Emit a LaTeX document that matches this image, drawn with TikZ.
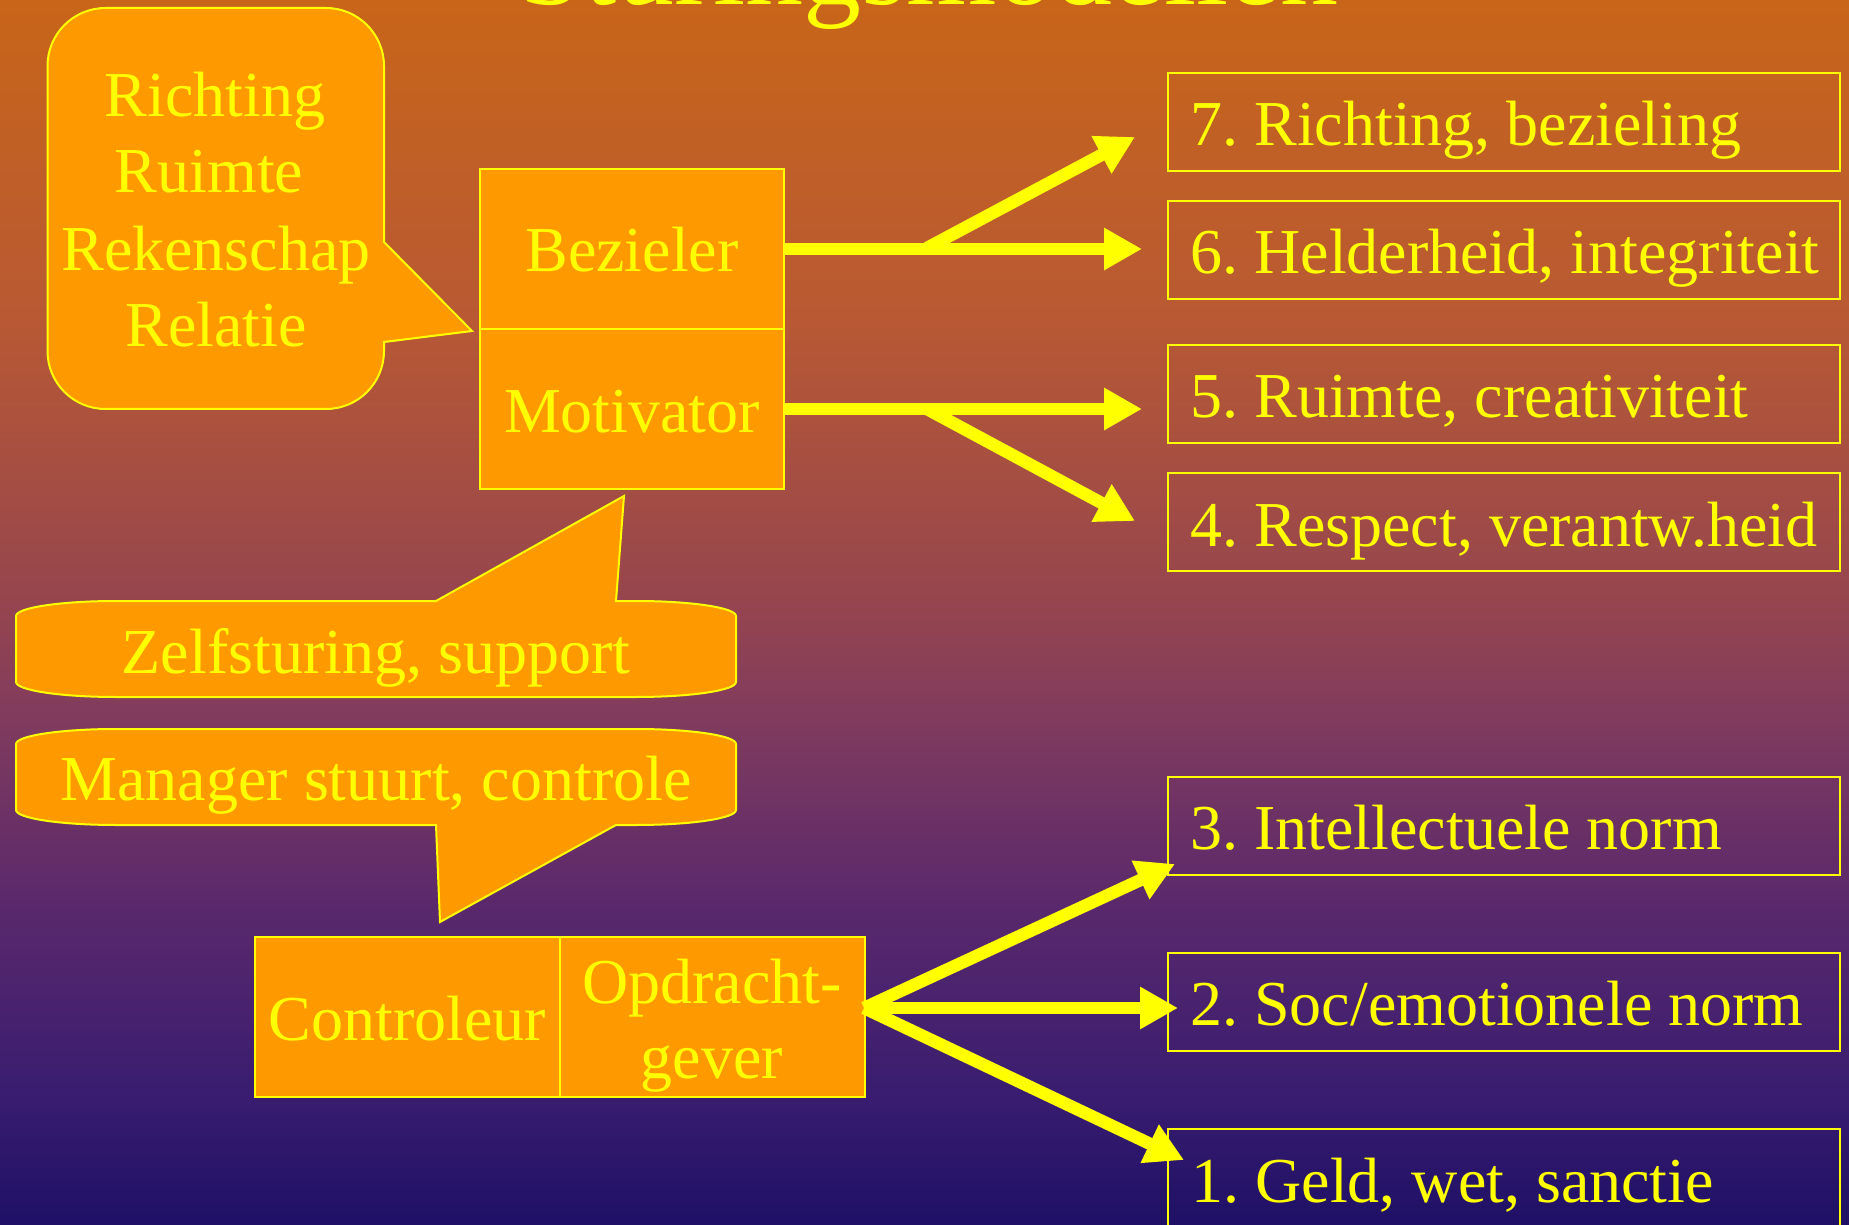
\documentclass[tikz,border=0pt]{standalone}
\usepackage{fontspec}
\setmainfont{Liberation Serif}
\usetikzlibrary{arrows.meta}
\definecolor{bgA}{RGB}{200,101,25}
\definecolor{bgB}{RGB}{184,89,52}
\definecolor{bgC}{RGB}{150,69,78}
\definecolor{bgD}{RGB}{128,59,94}
\definecolor{bgE}{RGB}{89,40,108}
\definecolor{bgF}{RGB}{58,29,112}
\definecolor{bgG}{RGB}{30,16,102}
\definecolor{boxorange}{RGB}{255,153,0}
\definecolor{ylw}{RGB}{255,255,0}
\pgfdeclareverticalshading{bgshade}{100bp}{color(0bp)=(bgG); color(25bp)=(bgG); color(30.51bp)=(bgF); color(37.86bp)=(bgE); color(45.61bp)=(bgD); color(50.51bp)=(bgC); color(61.94bp)=(bgB); color(75bp)=(bgA); color(100bp)=(bgA)}
\frenchspacing
\begin{document}
\begin{tikzpicture}[x=0.5pt,y=-0.5pt,
  txt/.style={text=ylw, font=\fontsize{32pt}{38pt}\selectfont, inner sep=0pt},
  obox/.style={txt, draw=ylw, fill=boxorange, line width=1pt, minimum width=152pt, minimum height=80pt, text height=23pt, text depth=0pt},
  rbox/.style={draw=ylw, line width=1pt, minimum width=336pt, minimum height=49pt, inner sep=0pt},
  rtxt/.style={txt, anchor=base west},
  callout/.style={draw=ylw, fill=boxorange, line width=1pt, line join=miter},
  arr/.style={draw=ylw, line width=6.25pt, -{Triangle[length=19pt,width=20pt]}}]
\useasboundingbox (0,0) rectangle (1849,1225);
\clip (0,0) rectangle (1849,1225);
\shade[shading=bgshade] (0,0) rectangle (1849,1225);

% title
\node[txt, font=\fontsize{58pt}{60pt}\selectfont, anchor=base] (title) at (929,5) {Sturingsmodellen};

% callout top-left
\draw[callout] (384,242) -- (472,331) -- (384,342) -- (384,351)
  arc[start angle=0,end angle=90,radius=58] -- (105.5,409)
  arc[start angle=90,end angle=180,radius=58] -- (47.5,66)
  arc[start angle=180,end angle=270,radius=58] -- (326,8)
  arc[start angle=270,end angle=360,radius=58] -- cycle;
\node[txt, anchor=base] (r1) at (215,117) {Richting};
\node[txt, anchor=base] (r2) at (209,193) {Ruimte};
\node[txt, anchor=base] (r3) at (216,271) {Rekenschap};
\node[txt, anchor=base] (r4) at (216,347) {Relatie};

% Zelfsturing callout
\draw[callout] (436,601) -- (624,496) -- (616,601) -- (636,601)
  arc[start angle=270,end angle=360,x radius=100,y radius=15] -- (736,682)
  arc[start angle=0,end angle=90,x radius=100,y radius=15] -- (116,697)
  arc[start angle=90,end angle=180,x radius=100,y radius=15] -- (16,616)
  arc[start angle=180,end angle=270,x radius=100,y radius=15] -- cycle;
\node[txt, anchor=base] (zelf) at (376,673) {Zelfsturing, support};

% Manager callout
\draw[callout] (116,729) -- (636,729)
  arc[start angle=270,end angle=360,x radius=100,y radius=15] -- (736,810)
  arc[start angle=0,end angle=90,x radius=100,y radius=15] -- (616,825) -- (440,922) -- (436,825) -- (116,825)
  arc[start angle=90,end angle=180,x radius=100,y radius=15] -- (16,744)
  arc[start angle=180,end angle=270,x radius=100,y radius=15] -- cycle;
\node[txt, anchor=base] (man) at (376,800) {Manager stuurt, controle};

% orange boxes
\node[obox] (bez) at (632,249) {Bezieler};
\node[obox] (mot) at (632,409) {Motivator};
\node[obox, minimum width=152.5pt] (con) at (407.5,1017) {Controleur};
\node[obox, minimum width=152.5pt] (opd) at (712.5,1017) {};
\node[txt, anchor=base] (opd1) at (712,1003) {Opdracht-};
\node[txt, anchor=base] (opd2) at (712,1078) {gever};

% right boxes
\node[rbox] (b7) at (1504,122) {};
\node[rbox] (b6) at (1504,250) {};
\node[rbox] (b5) at (1504,394) {};
\node[rbox] (b4) at (1504,522) {};
\node[rbox] (b3) at (1504,826) {};
\node[rbox] (b2) at (1504,1002) {};
\node[rbox] (b1) at (1504,1178) {};
\node[rtxt] (l7) at (1190,146) {7. Richting, bezieling};
\node[rtxt] (l6) at (1190,274) {6. Helderheid, integriteit};
\node[rtxt] (l5) at (1190,417) {5. Ruimte, creativiteit};
\node[rtxt] (l4) at (1190,546) {4. Respect, verantw.heid};
\node[rtxt] (l3) at (1190,849) {3. Intellectuele norm};
\node[rtxt] (l2) at (1190,1025) {2. Soc/emotionele norm};
\node[rtxt] (l1) at (1191,1202) {1. Geld, wet, sanctie};

% connector points
\coordinate (j1) at (927,248);
\coordinate (j2) at (927,409);
\coordinate (t7) at (1135,137);
\coordinate (t6) at (1142,249);
\coordinate (t5) at (1142,409);
\coordinate (t4) at (1135,521);
\coordinate (src) at (864,1008);
\coordinate (t3) at (1175,864);
\coordinate (t2) at (1178,1008);
\coordinate (t1) at (1184,1160);

% arrows
\draw[arr] (bez.east) -- (t6);
\draw[arr] (j1) -- (t7);
\draw[arr] (mot.east) -- (t5);
\draw[arr] (j2) -- (t4);
\draw[arr] (src) -- (t3);
\draw[arr] (src) -- (t2);
\draw[arr] (src) -- (t1);
\end{tikzpicture}
\end{document}
